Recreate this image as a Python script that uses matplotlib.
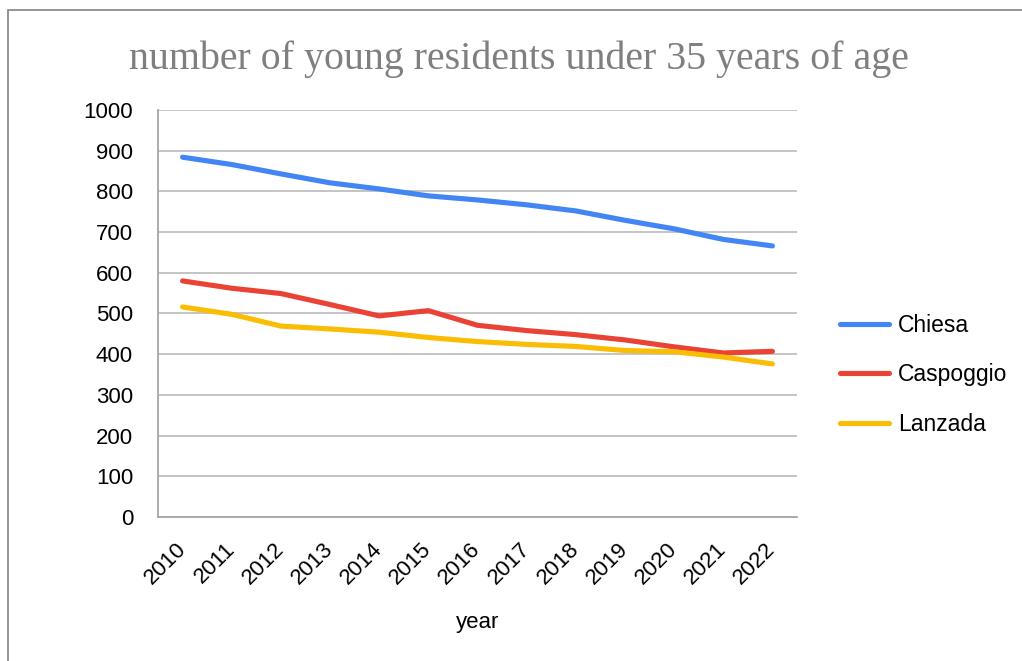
import matplotlib
matplotlib.use("Agg")
import matplotlib.pyplot as plt
from matplotlib.patches import Rectangle

years = ["2010", "2011", "2012", "2013", "2014", "2015", "2016",
         "2017", "2018", "2019", "2020", "2021", "2022"]
chiesa = [884, 866, 843, 821, 806, 789, 779, 767, 752, 729, 708, 682, 666]
caspoggio = [580, 562, 549, 522, 494, 507, 471, 458, 448, 435, 418, 403, 407]
lanzada = [516, 498, 469, 462, 454, 441, 431, 424, 419, 409, 406, 393, 376]
yticks = [0, 100, 200, 300, 400, 500, 600, 700, 800, 900, 1000]

font = "Liberation Sans"
fig = plt.figure(figsize=(10.22, 6.61), dpi=100)
fig.patch.set_facecolor("white")
ax = fig.add_axes([0.1546, 0.2179, 0.6252, 0.6157])

x = list(range(len(years)))
ax.plot(x, chiesa, color="#4285F4", lw=3.7, solid_capstyle="round", label="Chiesa")
ax.plot(x, caspoggio, color="#EA4335", lw=3.7, solid_capstyle="round", label="Caspoggio")
ax.plot(x, lanzada, color="#FBBC04", lw=3.7, solid_capstyle="round", label="Lanzada")

ax.set_xlim(-0.5, len(years) - 0.5)
ax.set_ylim(0, 1000)
ax.set_yticks(yticks)
ax.set_yticklabels([str(v) for v in yticks], fontsize=16, family=font)
ax.set_xticks(x)
ax.set_xticklabels(years, fontsize=16, family=font, rotation=45,
                   ha="right", va="center", rotation_mode="anchor")
ax.tick_params(axis="y", length=0, pad=18)
ax.tick_params(axis="x", length=0, pad=21)
ax.grid(axis="y", color="#bfbfbf", lw=1.3)
ax.set_axisbelow(True)
for s in ("top", "right"):
    ax.spines[s].set_visible(False)
for s in ("left", "bottom"):
    ax.spines[s].set_color("#a6a6a6")
    ax.spines[s].set_linewidth(1.3)

ax.set_xlabel("year", fontsize=16, family=font, labelpad=17)

fig.text(0.508, 0.911, "number of young residents under 35 years of age",
         ha="center", va="center", fontsize=28.7, family="Liberation Serif",
         color="#7f7f7f")

leg = ax.legend(loc="center left", bbox_to_anchor=(1.035, 0.349), frameon=False,
                prop={"family": font, "size": 16.5}, handlelength=2.14,
                handletextpad=0.38, labelspacing=1.16)

fig.patches.append(Rectangle((8 / 1022, -0.1), 1.2, 1.1 - 10 / 661,
                             transform=fig.transFigure, fill=False,
                             edgecolor="#8c8c8c", lw=1.3))

fig.savefig("out.png", dpi=100)
